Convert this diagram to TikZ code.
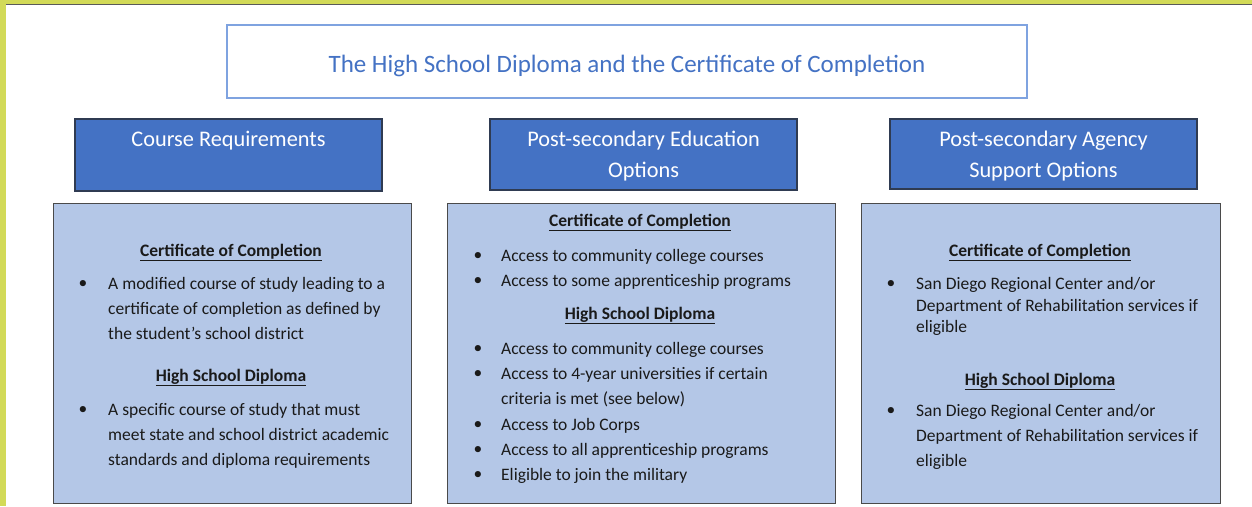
\documentclass[tikz,border=0pt]{standalone}
\usepackage{fontspec}
\setmainfont{Carlito}
\definecolor{hdr}{HTML}{4472C4}
\definecolor{hdrline}{HTML}{2F3B52}
\definecolor{panel}{HTML}{B4C7E7}
\definecolor{panelline}{HTML}{4A4A4A}
\definecolor{titleline}{HTML}{7FA3E0}
\definecolor{titletxt}{HTML}{4472C4}
\definecolor{lime}{HTML}{D2DA58}
\definecolor{txt}{HTML}{1A1A1A}
\begin{document}
\begin{tikzpicture}[x=1pt,y=-1pt,
  titlebox/.style={draw=titleline, line width=1.5pt, fill=white, inner sep=0},
  titletxt/.style={text=titletxt, font=\fontsize{25}{30}\selectfont, inner sep=0, text height=0.7em, text depth=0.2em, yshift=-6pt},
  hdrbox/.style={draw=hdrline, line width=1.2pt, fill=hdr, inner sep=0},
  panelbox/.style={draw=panelline, line width=1pt, fill=panel, inner sep=0},
  hdrtxt/.style={text=white, font=\fontsize{22.3}{26}\selectfont, inner sep=0, text height=0.7em, text depth=0.2em, yshift=-5pt},
  bodytxt/.style={anchor=west, inner sep=0, text=txt, font=\fontsize{17.5}{21}\selectfont, text height=0.7em, text depth=0.2em, yshift=-3.5pt},
  headtxt/.style={inner sep=0, text=txt, font=\fontsize{17.5}{21}\selectfont\bfseries, text height=0.7em, text depth=0.2em, yshift=-3.5pt},
  bul/.style={inner sep=0, text=txt, font=\fontsize{17.5}{21}\selectfont, yshift=-1.5pt}
]
\useasboundingbox (0,0) rectangle (1252,506);
\fill[white] (0,0) rectangle (1252,506);
\fill[lime] (0,0) rectangle (1252,4);
\fill[lime] (0,0) rectangle (6,506);
\draw[gray!70!black, line width=0.8pt] (6,4.4) -- (1252,4.4);

% title
\node[titlebox, minimum width=800, minimum height=73] (title) at (627,61.5) {};
\node[titletxt] (titlet) at (627,64) {The High School Diploma and the Certificate of Completion};

% headers
\node[hdrbox, minimum width=307, minimum height=72] (h1) at (228.5,155) {};
\node[hdrbox, minimum width=307, minimum height=71] (h2) at (643.5,154.5) {};
\node[hdrbox, minimum width=307, minimum height=70] (h3) at (1043.5,154) {};
\node[hdrtxt] (h1a) at (228.5,139) {Course Requirements};
\node[hdrtxt] (h2a) at (643.5,139) {Post-secondary Education};
\node[hdrtxt] (h2b) at (643.5,170) {Options};
\node[hdrtxt] (h3a) at (1043.5,139) {Post-secondary Agency};
\node[hdrtxt] (h3b) at (1043.5,170) {Support Options};

% panels
\node[panelbox, minimum width=358, minimum height=300] (p1) at (232,353) {};
\node[panelbox, minimum width=388, minimum height=300] (p2) at (641,353) {};
\node[panelbox, minimum width=359, minimum height=300] (p3) at (1040.5,353) {};

% panel 1
\node[headtxt] (p1h1) at (231,250) {\underline{Certificate of Completion}};
\node[bul] (p1b1) at (83,283) {•};
\node[bodytxt] (p1t1) at (108,283) {A modified course of study leading to a};
\node[bodytxt] (p1t2) at (108,308) {certificate of completion as defined by};
\node[bodytxt] (p1t3) at (108,333) {the student’s school district};
\node[headtxt] (p1h2) at (231,375) {\underline{High School Diploma}};
\node[bul] (p1b2) at (83,409) {•};
\node[bodytxt] (p1t4) at (108,409) {A specific course of study that must};
\node[bodytxt] (p1t5) at (108,434) {meet state and school district academic};
\node[bodytxt] (p1t6) at (108,459) {standards and diploma requirements};

% panel 2
\node[headtxt] (p2h1) at (640,220) {\underline{Certificate of Completion}};
\node[bul] (p2b1) at (478,255) {•};
\node[bodytxt] (p2t1) at (501,255) {Access to community college courses};
\node[bul] (p2b2) at (478,280) {•};
\node[bodytxt] (p2t2) at (501,280) {Access to some apprenticeship programs};
\node[headtxt] (p2h2) at (640,313) {\underline{High School Diploma}};
\node[bul] (p2b3) at (478,348) {•};
\node[bodytxt] (p2t3) at (501,348) {Access to community college courses};
\node[bul] (p2b4) at (478,373) {•};
\node[bodytxt] (p2t4) at (501,373) {Access to 4-year universities if certain};
\node[bodytxt] (p2t5) at (501,398) {criteria is met (see below)};
\node[bul] (p2b5) at (478,424) {•};
\node[bodytxt] (p2t6) at (501,424) {Access to Job Corps};
\node[bul] (p2b6) at (478,449) {•};
\node[bodytxt] (p2t7) at (501,449) {Access to all apprenticeship programs};
\node[bul] (p2b7) at (478,474) {•};
\node[bodytxt] (p2t8) at (501,474) {Eligible to join the military};

% panel 3
\node[headtxt] (p3h1) at (1040,250) {\underline{Certificate of Completion}};
\node[bul] (p3b1) at (891,283) {•};
\node[bodytxt] (p3t1) at (916,283) {San Diego Regional Center and/or};
\node[bodytxt] (p3t2) at (916,305) {Department of Rehabilitation services if};
\node[bodytxt] (p3t3) at (916,326) {eligible};
\node[headtxt] (p3h2) at (1040,379) {\underline{High School Diploma}};
\node[bul] (p3b2) at (891,410) {•};
\node[bodytxt] (p3t4) at (916,410) {San Diego Regional Center and/or};
\node[bodytxt] (p3t5) at (916,435) {Department of Rehabilitation services if};
\node[bodytxt] (p3t6) at (916,460) {eligible};
\end{tikzpicture}
\end{document}
